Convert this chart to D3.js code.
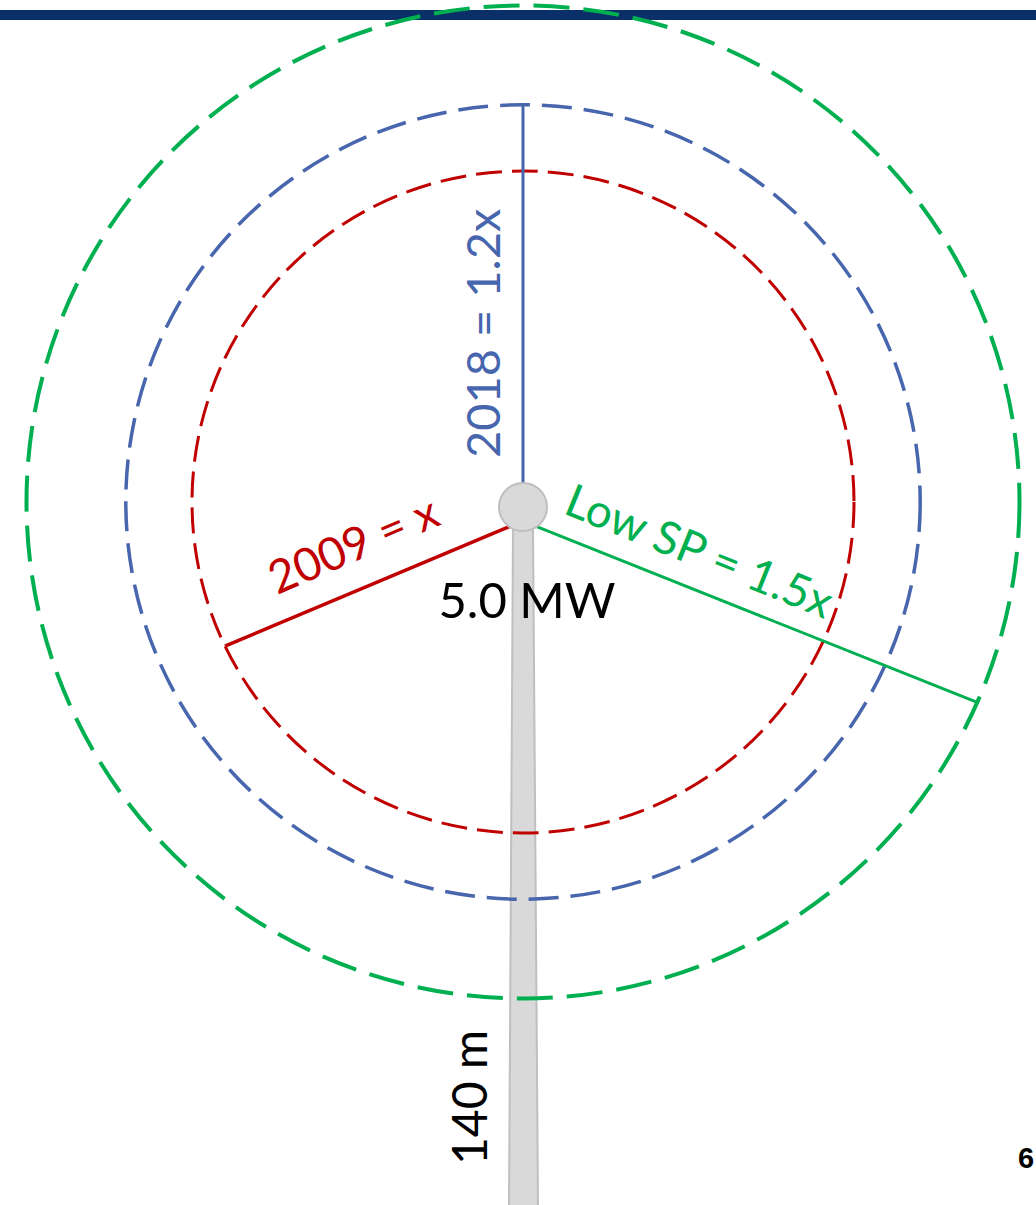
<!DOCTYPE html>
<html>
<head>
<meta charset="utf-8">
<script src="https://cdn.jsdelivr.net/npm/d3@7/dist/d3.min.js"></script>
<style>
  html, body { margin: 0; padding: 0; background: #fff; }
  svg { display: block; }
  text { font-family: Lato, "Open Sans", sans-serif; }
  text.page-num { font-family: "Liberation Sans", Arial, sans-serif; font-weight: bold; }
</style>
</head>
<body>
<svg id="chart" width="1036" height="1205"></svg>
<script>
// Rotor generations: diameter relative to the 2009 rotor
const rotorNames = ["2009", "2018", "Low SP"];
const rotorFactors = [1, 1.2, 1.5];
const rotorLabels = ["2009 = x", "2018 = 1.2x", "Low SP = 1.5x"];
const ratingLabel = "5.0 MW";
const hubHeightLabel = "140 m";
const pageNumber = "6";

// Presentation settings
const W = 1036, H = 1205;
const center = { x: 523, y: 502 };
const hub = { x: 523, y: 507, r: 24 };
const styles = [
  { color: "#c00000", width: 3,   dash: "26 10", lineWidth: 3.5, angle: 154.2, startAngle: 125 },
  { color: "#4766ad", width: 3.5, dash: "30 12", lineWidth: 3,   angle: -90,   startAngle: -90 },
  { color: "#00b050", width: 4,   dash: "36 14", lineWidth: 3,   angle: 23.8,  startAngle: 55 }
];

const r = d3.scaleLinear().domain([0, 1]).range([0, 331]);
const rad = a => a * Math.PI / 180;

const svg = d3.select("#chart");

// header rule
svg.append("rect")
  .attr("x", 0).attr("y", 10).attr("width", W).attr("height", 10)
  .attr("fill", "#0a2f69");

// tower
const towerTop = 528, towerBottom = H + 2;
svg.append("path")
  .attr("d", d3.line()([
    [hub.x - 10, towerTop], [hub.x + 10, towerTop],
    [hub.x + 15, towerBottom], [hub.x - 14, towerBottom]
  ]) + "Z")
  .attr("fill", "#d9d9d9")
  .attr("stroke", "#bfbfbf")
  .attr("stroke-width", 2);

// swept-area circles
svg.selectAll("circle.rotor")
  .data(rotorFactors)
  .join("circle")
  .attr("class", "rotor")
  .attr("cx", center.x).attr("cy", center.y)
  .attr("r", d => r(d))
  .attr("fill", "none")
  .attr("stroke", (d, i) => styles[i].color)
  .attr("stroke-width", (d, i) => styles[i].width)
  .attr("stroke-dasharray", (d, i) => styles[i].dash);

// blade radius lines
svg.selectAll("line.blade")
  .data(rotorFactors)
  .join("line")
  .attr("class", "blade")
  .attr("x1", (d, i) => hub.x + hub.r * Math.cos(rad(styles[i].startAngle)))
  .attr("y1", (d, i) => hub.y + hub.r * Math.sin(rad(styles[i].startAngle)))
  .attr("x2", (d, i) => center.x + r(d) * Math.cos(rad(styles[i].angle)))
  .attr("y2", (d, i) => center.y + r(d) * Math.sin(rad(styles[i].angle)))
  .attr("stroke", (d, i) => styles[i].color)
  .attr("stroke-width", (d, i) => styles[i].lineWidth);

// hub
svg.append("circle")
  .attr("cx", hub.x).attr("cy", hub.y).attr("r", hub.r)
  .attr("fill", "#d9d9d9")
  .attr("stroke", "#bfbfbf")
  .attr("stroke-width", 2);

// rotor labels, laid along their radius lines
const labelPos = [
  { x: 277, y: 595, rot: -23.2, size: 46 },
  { x: 500, y: 458, rot: -90,   size: 47 },
  { x: 562, y: 513, rot: 22,    size: 46 }
];
svg.selectAll("text.rotor-label")
  .data(rotorLabels)
  .join("text")
  .attr("class", "rotor-label")
  .attr("transform", (d, i) => `translate(${labelPos[i].x},${labelPos[i].y}) rotate(${labelPos[i].rot})`)
  .attr("font-size", (d, i) => labelPos[i].size)
  .attr("fill", (d, i) => styles[i].color)
  .text(d => d);

// rating
svg.append("text")
  .attr("x", 527).attr("y", 618)
  .attr("text-anchor", "middle")
  .attr("font-size", 49)
  .attr("fill", "#000")
  .text(ratingLabel);

// hub height
svg.append("text")
  .attr("transform", "translate(487,1165) rotate(-90)")
  .attr("font-size", 48)
  .attr("fill", "#000")
  .text(hubHeightLabel);

// page number
svg.append("text")
  .attr("class", "page-num")
  .attr("x", 1018).attr("y", 1168)
  .attr("font-size", 29)
  .attr("fill", "#000")
  .text(pageNumber);
</script>
</body>
</html>
